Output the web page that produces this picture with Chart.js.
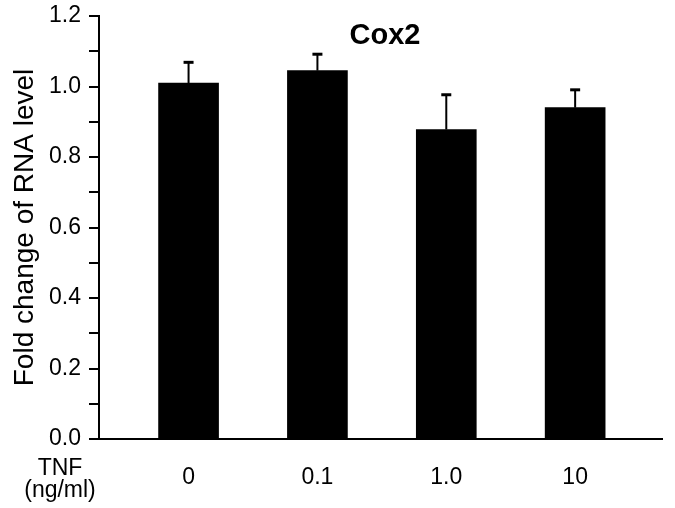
<!DOCTYPE html>
<html>
<head>
<meta charset="utf-8">
<script src="https://cdn.jsdelivr.net/npm/chart.js@4.4.1/dist/chart.umd.min.js"></script>
<style>
  html, body { margin: 0; padding: 0; background: #ffffff; }
  #wrap { width: 675px; height: 508px; position: relative; }
</style>
</head>
<body>
<div id="wrap"><canvas id="c" width="675" height="508"></canvas></div>
<script>
// ---- data ----
const categories = ['0', '0.1', '1.0', '10'];
const foldChange = [1.01, 1.045, 0.878, 0.94];
const errorUpper = [0.06, 0.048, 0.10, 0.052];
const chartTitle = 'Cox2';
const yAxisTitle = 'Fold change of RNA level';
const xAxisNameLines = ['TNF', '(ng/ml)'];

const FONT = "'Liberation Sans', Arial, Helvetica, sans-serif";

const barPoints = categories.map((c, i) => ({ x: i + 1, y: foldChange[i] }));

const errorBarPlugin = {
  id: 'errorBars',
  afterDatasetsDraw(chart) {
    const ctx = chart.ctx;
    const xs = chart.scales.x, ys = chart.scales.y;
    ctx.save();
    ctx.strokeStyle = '#000';
    categories.forEach((c, i) => {
      const px = xs.getPixelForValue(i + 1);
      const y0 = ys.getPixelForValue(foldChange[i]);
      const y1 = ys.getPixelForValue(foldChange[i] + errorUpper[i]);
      ctx.lineWidth = 2;
      ctx.beginPath();
      ctx.moveTo(px, y0);
      ctx.lineTo(px, y1);
      ctx.stroke();
      ctx.lineWidth = 3;
      ctx.beginPath();
      ctx.moveTo(px - 5, y1 + 0.5);
      ctx.lineTo(px + 5, y1 + 0.5);
      ctx.stroke();
    });
    ctx.restore();
  }
};

const extraTextPlugin = {
  id: 'extraText',
  afterDraw(chart) {
    const ctx = chart.ctx;
    ctx.save();
    ctx.fillStyle = '#000';
    ctx.textAlign = 'center';
    ctx.textBaseline = 'middle';
    ctx.font = 'bold 29px ' + FONT;
    ctx.fillText(chartTitle, 385, 36);
    ctx.font = '23px ' + FONT;
    ctx.fillText(xAxisNameLines[0], 60, 469);
    ctx.fillText(xAxisNameLines[1], 60, 491);
    ctx.restore();
  }
};

new Chart(document.getElementById('c'), {
  type: 'bar',
  data: {
    datasets: [{
      data: barPoints,
      backgroundColor: '#000000',
      borderWidth: 0,
      barThickness: 60
    }]
  },
  plugins: [errorBarPlugin, extraTextPlugin],
  options: {
    responsive: false,
    animation: false,
    devicePixelRatio: 1,
    layout: { padding: { top: 16, right: 13, left: 0, bottom: 0 } },
    plugins: {
      legend: { display: false },
      tooltip: { enabled: false },
      title: { display: false }
    },
    scales: {
      x: {
        type: 'linear',
        offset: false,
        min: 0.305,
        max: 4.674,
        afterBuildTicks(scale) {
          scale.ticks = categories.map((c, i) => ({ value: i + 1 }));
        },
        afterFit(scale) { scale.height = 69; scale.paddingLeft = 0; scale.paddingRight = 0; },
        ticks: {
          autoSkip: false,
          maxRotation: 0,
          padding: 25,
          color: '#000',
          font: { family: FONT, size: 23 },
          callback: (v) => categories[Math.round(v) - 1] ?? ''
        },
        grid: { display: false, drawTicks: false },
        border: { display: true, color: '#000', width: 2 }
      },
      y: {
        min: 0,
        max: 1.2,
        afterFit(scale) { scale.width = 99; scale.paddingTop = 0; scale.paddingBottom = 0; },
        ticks: {
          stepSize: 0.1,
          padding: 8,
          color: '#000',
          font: { family: FONT, size: 23 },
          callback: (v) => (Math.round(v * 10) % 2 === 0 ? (Math.round(v * 10) / 10).toFixed(1) : '')
        },
        grid: {
          display: true,
          drawOnChartArea: false,
          drawTicks: true,
          tickLength: 10,
          color: '#000',
          lineWidth: 2
        },
        border: { display: true, color: '#000', width: 2 },
        title: {
          display: true,
          text: yAxisTitle,
          color: '#000',
          font: { family: FONT, size: 28 },
          padding: { top: 8, bottom: 0 }
        }
      }
    }
  }
});
</script>
</body>
</html>
